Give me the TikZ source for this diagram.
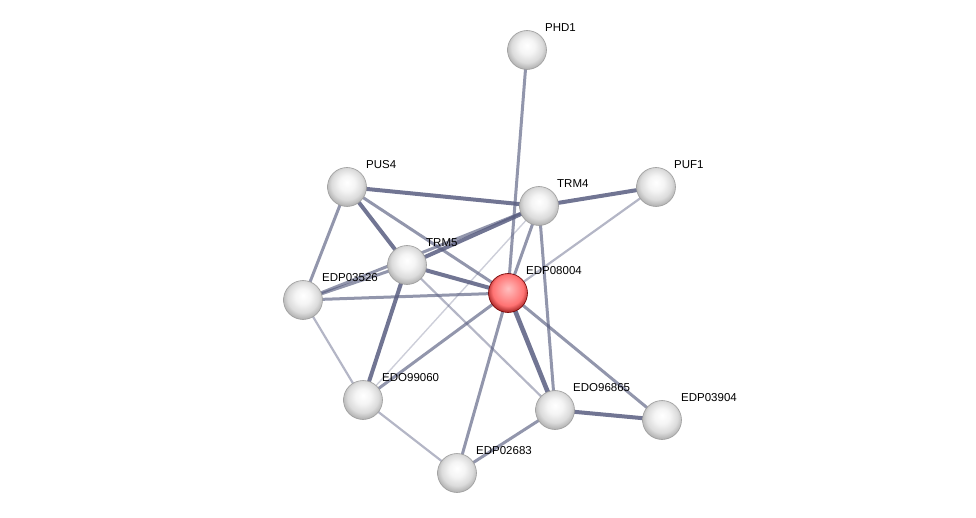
\documentclass[tikz,border=0pt]{standalone}
\usepackage{fontspec}
\setmainfont{Liberation Sans}
\usetikzlibrary{backgrounds}
\definecolor{edgecol}{RGB}{88,93,128}
\pgfdeclareradialshading{glossy}{\pgfpoint{0bp}{6bp}}{color(0bp)=(white); color(10bp)=(white!96!black); color(20bp)=(white!86!black); color(26bp)=(white!72!black); color(31bp)=(white!55!black); color(50bp)=(white!55!black)}
\pgfdeclareradialshading{glossyred}{\pgfpoint{0bp}{6bp}}{color(0bp)=(red!25!white); color(10bp)=(red!40!white); color(20bp)=(red!55!white); color(26bp)=(red!65!black!80); color(31bp)=(red!50!black); color(50bp)=(red!50!black)}
\tikzset{
  prot/.style={circle, minimum size=39pt, inner sep=0pt, shading=glossy, draw=white!62!black, line width=.6pt},
  hub/.style={prot, shading=glossyred, draw=red!45!black},
  lbl/.style={anchor=west, inner sep=0pt, font=\fontsize{11.5}{13}\selectfont},
  strong/.style={edgecol, line width=4pt, opacity=.85},
  medium/.style={edgecol, line width=3pt, opacity=.65},
  weak/.style={edgecol, line width=2.2pt, opacity=.45},
  faint/.style={edgecol, line width=1.4pt, opacity=.3}
}
\begin{document}
\begin{tikzpicture}[x=1pt, y=-1pt]
\useasboundingbox (0,0) rectangle (976,518);
%
             \node [prot] at (527,50) (phd1) {};
              \node [prot] at (347,187) (pus4) {};
                   \node [prot] at (539,206) (trm4) {};
                       \node [prot] at (656,187) (puf1) {};
                        \node [prot] at (407,265) (trm5) {};
                        \node [prot] at (303,300) (edp03526) {};
                          \node [hub] at (508,293) (edp08004) {};
                           \node [prot] at (363,400) (edo99060) {};
                           \node [prot] at (555,410) (edo96865) {};
                           \node [prot] at (662,420) (edp03904) {};
                           \node [prot] at (457,473) (edp02683) {};
%
                           \node [lbl] at (545,28) (phd1 lbl) {PHD1};
                           \node [lbl] at (366,165) (pus4 lbl) {PUS4};
                           \node [lbl] at (557,184) (trm4 lbl) {TRM4};
                           \node [lbl] at (674,165) (puf1 lbl) {PUF1};
                           \node [lbl] at (426,243) (trm5 lbl) {TRM5};
                           \node [lbl] at (322,278) (edp03526 lbl) {EDP03526};
                           \node [lbl] at (526,271) (edp08004 lbl) {EDP08004};
                           \node [lbl] at (382,378) (edo99060 lbl) {EDO99060};
                           \node [lbl] at (573,388) (edo96865 lbl) {EDO96865};
                           \node [lbl] at (681,398) (edp03904 lbl) {EDP03904};
                           \node [lbl] at (476,451) (edp02683 lbl) {EDP02683};
%
\begin{pgfonlayer}{background}
\draw[medium] (phd1.center)--(edp08004.center);
\draw[strong] (pus4.center)--(trm4.center);
\draw[strong] (pus4.center)--(trm5.center);
\draw[medium] (pus4.center)--(edp08004.center);
\draw[medium] (pus4.center)--(edp03526.center);
\draw[strong] (trm4.center)--(puf1.center);
\draw[strong] (trm4.center)--(trm5.center);
\draw[medium] (trm4.center)--(edp03526.center);
\draw[medium] (trm4.center)--(edp08004.center);
\draw[medium] (trm4.center)--(edo96865.center);
\draw[faint] (trm4.center)--(edo99060.center);
\draw[weak] (puf1.center)--(edp08004.center);
\draw[strong] (trm5.center)--(edp08004.center);
\draw[strong] (trm5.center)--(edo99060.center);
\draw[weak] (trm5.center)--(edo96865.center);
\draw[medium] (edp03526.center)--(trm5.center);
\draw[medium] (edp03526.center)--(edp08004.center);
\draw[weak] (edp03526.center)--(edo99060.center);
\draw[medium] (edp08004.center)--(edo99060.center);
\draw[medium] (edp08004.center)--(edp02683.center);
\draw[strong, line width=4.6pt] (edp08004.center)--(edo96865.center);
\draw[medium] (edp08004.center)--(edp03904.center);
\draw[strong] (edo96865.center)--(edp03904.center);
\draw[medium] (edo96865.center)--(edp02683.center);
\draw[weak] (edo99060.center)--(edp02683.center);
\end{pgfonlayer}
\end{tikzpicture}
\end{document}
